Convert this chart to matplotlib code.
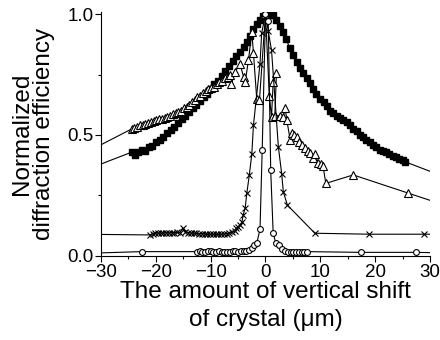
import matplotlib
matplotlib.use("Agg")
import matplotlib.pyplot as plt
from matplotlib.ticker import MultipleLocator

plt.rcParams['font.family'] = ['Liberation Sans', 'DejaVu Sans']

# filled squares
sq_x = [-34, -24.3, -23.8, -23.2, -22.5, -22.0, -21.3, -20.7, -20.0, -19.3, -18.7, -18.0,
        -17.3, -16.7, -16.0, -15.3, -14.7, -14.0, -13.3, -12.7, -12.0, -11.3, -10.7,
        -10.0, -9.3, -8.7, -8.0, -7.3, -6.7, -6.0, -5.3, -4.7, -4.0, -3.4, -2.8, -2.2,
        -1.6, -1.0, -0.4, 0.2, 0.8, 1.4, 2.0, 2.6, 3.2, 3.8, 4.4, 5.0, 5.7, 6.3, 6.9,
        7.5, 8.1, 8.7, 9.3, 10.0, 10.6, 11.2, 11.8, 12.4, 13.0, 13.6, 14.2, 14.8, 15.4,
        16.0, 16.6, 17.2, 17.8, 18.4, 19.0, 19.6, 20.2, 20.8, 21.4, 22.0, 22.6, 23.2,
        23.8, 24.4, 25.0, 25.4, 34]
sq_y = [0.345, 0.43, 0.417, 0.43, 0.44, 0.435, 0.45, 0.455, 0.47, 0.48, 0.49, 0.51,
        0.52, 0.535, 0.55, 0.565, 0.58, 0.595, 0.61, 0.625, 0.64, 0.655, 0.67,
        0.69, 0.71, 0.725, 0.745, 0.765, 0.785, 0.805, 0.825, 0.845, 0.865, 0.885, 0.91, 0.94,
        0.96, 0.975, 0.99, 1.0, 1.0, 0.995, 0.975, 0.95, 0.925, 0.895, 0.86, 0.83, 0.80, 0.775, 0.755,
        0.735, 0.715, 0.69, 0.67, 0.65, 0.635, 0.62, 0.60, 0.59, 0.58, 0.57, 0.56, 0.555, 0.54,
        0.525, 0.515, 0.50, 0.49, 0.48, 0.47, 0.46, 0.45, 0.44, 0.435, 0.43, 0.42, 0.415,
        0.41, 0.40, 0.395, 0.39, 0.315]

# open triangles
tr_x = [-34, -24.4, -23.9, -23.4, -22.9, -22.4, -21.9, -21.4, -20.9, -20.4, -19.9, -19.4,
        -18.9, -18.4, -17.9, -17.4, -16.9, -16.4, -15.9, -15.4, -14.9, -14.4, -13.9, -13.4,
        -12.9, -12.4, -11.9, -11.4, -10.9, -10.4, -9.9, -9.4, -8.9, -8.4, -7.9, -7.4, -6.9,
        -6.4, -6.2, -5.6, -4.65, -4.0, -3.7, -3.1, -2.5, -2.2, -1.6, -1.1, 0.0, 0.7, 1.1,
        1.4, 2.0, 1.7, 2.6, 3.2, 3.6, 3.9, 4.5, 4.8, 5.2, 5.7, 6.2, 6.6, 7.2, 7.7, 8.1,
        8.7, 9.0, 9.6, 10.1, 10.5, 11.0, 16.0, 26.0, 34]
tr_y = [0.413, 0.525, 0.53, 0.535, 0.54, 0.542, 0.545, 0.55, 0.553, 0.556, 0.56, 0.565,
        0.568, 0.572, 0.575, 0.58, 0.585, 0.59, 0.595, 0.60, 0.61, 0.617, 0.625, 0.635,
        0.645, 0.655, 0.66, 0.675, 0.68, 0.69, 0.695, 0.70, 0.71, 0.72, 0.725, 0.735, 0.74,
        0.75, 0.71, 0.76, 0.795, 0.74, 0.72, 0.81, 0.925, 0.84, 0.65, 0.645, 1.0, 0.66, 0.575,
        0.72, 0.755, 0.58, 0.58, 0.575, 0.61, 0.56, 0.48, 0.51, 0.50, 0.49, 0.47, 0.46, 0.445, 0.435, 0.425,
        0.405, 0.42, 0.385, 0.38, 0.37, 0.30, 0.335, 0.26, 0.20]

# crosses
cr_x = [-34, -21.1, -20.6, -20.1, -19.6, -19.1, -18.6, -18.1, -17.6, -17.1, -16.6, -16.1,
        -15.6, -15.1, -14.6, -14.1, -13.6, -13.1, -12.6, -12.1, -11.6, -11.1, -10.6, -10.1,
        -9.6, -9.1, -8.6, -8.1, -7.6, -7.1, -6.6, -6.1, -5.6, -5.3, -5.0, -4.6, -4.3, -4.05,
        -3.7, -3.4, -2.95, -2.5, -2.2, -1.0, -0.7, 0.0, 0.5, 1.1, 2.35, 2.95, 3.25, 4.0,
        9.0, 18.9, 28.9, 34]
cr_y = [0.09, 0.087, 0.092, 0.094, 0.095, 0.094, 0.095, 0.096, 0.095, 0.096, 0.097, 0.098,
        0.097, 0.115, 0.10, 0.097, 0.095, 0.094, 0.093, 0.092, 0.092, 0.091, 0.09, 0.09,
        0.09, 0.089, 0.09, 0.09, 0.091, 0.092, 0.094, 0.098, 0.105, 0.115, 0.12, 0.13, 0.14, 0.17,
        0.20, 0.26, 0.335, 0.42, 0.54, 0.795, 0.92, 1.0, 0.93, 0.85, 0.45, 0.34, 0.265, 0.21,
        0.094, 0.09, 0.09, 0.09]

# open circles
ci_x = [-34, -22.6, -12.5, -12.0, -11.5, -11.0, -10.5, -10.0, -9.5, -9.0, -8.5, -8.0,
        -7.5, -7.0, -6.5, -6.0, -5.5, -5.0, -4.5, -4.0, -3.5, -3.0, -2.4, -2.1, -1.6, -1.0,
        -0.6, 0.0, 0.5, 0.95, 1.4, 1.9, 2.5, 3.1, 3.6, 4.1, 4.6, 5.1, 5.6, 6.1, 6.6, 7.0,
        7.5, 17.5, 27.4, 34]
ci_y = [0.01, 0.018, 0.018, 0.019, 0.018, 0.017, 0.019, 0.02, 0.016, 0.017, 0.02, 0.016,
        0.015, 0.016, 0.018, 0.02, 0.019, 0.018, 0.02, 0.022, 0.02, 0.025, 0.035, 0.045, 0.052, 0.11,
        0.44, 1.0, 0.97, 0.355, 0.094, 0.052, 0.045, 0.028, 0.02, 0.018, 0.018, 0.017, 0.018, 0.017, 0.018, 0.017,
        0.018, 0.015, 0.015, 0.012]

xticks = [-30, -20, -10, 0, 10, 20, 30]
yticks = [0.0, 0.5, 1.0]
ytick_labels = ["0.0", "0.5", "1.0"]

fig = plt.figure(figsize=(4.4, 3.4), dpi=100)
ax = fig.add_axes([0.2295, 0.2471, 0.7478, 0.7188])

lw = 0.8
ax.plot(sq_x, sq_y, color='black', lw=lw, marker='s', ms=4.5, mfc='black', mec='black')
ax.plot(tr_x, tr_y, color='black', lw=lw, marker='^', ms=6.0, mfc='white', mec='black', mew=0.8)
ax.plot(cr_x, cr_y, color='black', lw=lw, marker='x', ms=4.5, mec='black', mew=0.8)
ax.plot(ci_x, ci_y, color='black', lw=lw, marker='o', ms=4.2, mfc='white', mec='black', mew=0.8)

ax.set_xlim(-30, 30)
ax.set_ylim(0, 1.01)
ax.set_xticks(xticks)
ax.set_yticks(yticks)
ax.set_yticklabels(ytick_labels)
ax.xaxis.set_minor_locator(MultipleLocator(5))
ax.yaxis.set_minor_locator(MultipleLocator(0.25))
ax.spines['top'].set_visible(False)
ax.spines['right'].set_visible(False)
ax.tick_params(which='major', length=4, width=0.8, labelsize=13.5, pad=1.5)
ax.tick_params(which='minor', length=2.5, width=0.8)

ax.set_xlabel("The amount of vertical shift\nof crystal (\u03bcm)", fontsize=17.5, labelpad=0, linespacing=1.35)
ax.set_ylabel("Normalized\ndiffraction efficiency", fontsize=17.5, labelpad=9, linespacing=1.0)

fig.savefig("out.png", dpi=100)
